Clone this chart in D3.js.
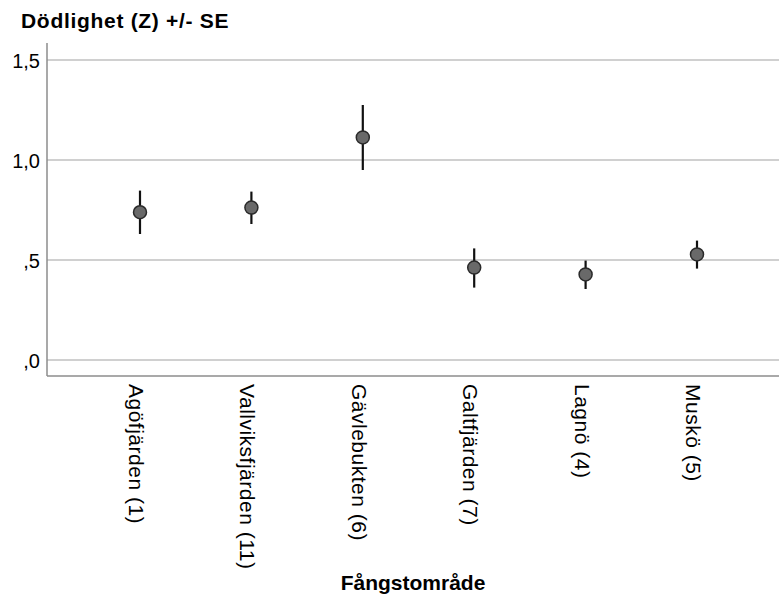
<!DOCTYPE html>
<html>
<head>
<meta charset="utf-8">
<script src="https://cdn.jsdelivr.net/npm/d3@7"></script>
<style>
  body { margin: 0; background: #fff; }
  text { font-family: Arial, "Liberation Sans", sans-serif; }
</style>
</head>
<body>
<div id="chart"></div>
<script>
// fishing areas and mortality (Z) with +/- SE
var areas = ["Agöfjärden (1)", "Vallviksfjärden (11)", "Gävlebukten (6)", "Galtfjärden (7)", "Lagnö (4)", "Muskö (5)"];
var meanZ = [0.739, 0.762, 1.113, 0.462, 0.428, 0.528];
var upperZ = [0.847, 0.842, 1.275, 0.558, 0.497, 0.597];
var lowerZ = [0.630, 0.680, 0.950, 0.362, 0.355, 0.457];
var yTicks = [0, 0.5, 1.0, 1.5];

var width = 779, height = 616;
var plotLeft = 47, plotRight = 779, plotTop = 43, plotBottom = 376;

var svg = d3.select("#chart").append("svg")
  .attr("width", width)
  .attr("height", height);

var y = d3.scaleLinear().domain([-0.08, 1.585]).range([plotBottom, plotTop]);
var x = d3.scalePoint().domain(areas).range([140, 697]);

// tick label like SPSS: 1,5 / 1,0 / ,5 / ,0
function fmt(v){
  var s = d3.format(".1f")(v).replace(".", ",");
  if (s.indexOf("0,") == 0) s = s.substring(1);
  return s;
}

// gridlines
svg.append("g").selectAll("line")
  .data(yTicks)
  .enter().append("line")
  .attr("x1", plotLeft).attr("x2", plotRight)
  .attr("y1", function(d){ return y(d); })
  .attr("y2", function(d){ return y(d); })
  .style("stroke", "#d0d0d0")
  .style("stroke-width", 2);

// y axis
var yAxis = svg.append("g")
  .attr("transform", "translate(" + plotLeft + ",0)")
  .call(d3.axisLeft(y).tickValues(yTicks).tickFormat(fmt).tickSize(0).tickPadding(7));
yAxis.select(".domain").remove();
yAxis.selectAll("text").style("font-size", "20px").style("fill", "#000").attr("dy", "0.36em");

// axis lines
svg.append("line")
  .attr("x1", plotLeft).attr("x2", plotLeft).attr("y1", plotTop).attr("y2", plotBottom)
  .style("stroke", "#8c8c8c").style("stroke-width", 1.5);
svg.append("line")
  .attr("x1", plotLeft).attr("x2", plotRight).attr("y1", plotBottom).attr("y2", plotBottom)
  .style("stroke", "#8c8c8c").style("stroke-width", 1.5);

// error bars
svg.append("g").selectAll("line")
  .data(areas)
  .enter().append("line")
  .attr("x1", function(d){ return x(d); })
  .attr("x2", function(d){ return x(d); })
  .attr("y1", function(d, i){ return y(upperZ[i]); })
  .attr("y2", function(d, i){ return y(lowerZ[i]); })
  .style("stroke", "#111")
  .style("stroke-width", 2.2);

// mean points
svg.append("g").selectAll("circle")
  .data(areas)
  .enter().append("circle")
  .attr("cx", function(d){ return x(d); })
  .attr("cy", function(d, i){ return y(meanZ[i]); })
  .attr("r", 6.5)
  .style("fill", "#696969")
  .style("stroke", "#2a2a2a")
  .style("stroke-width", 1.5);

// category labels, rotated
svg.append("g").selectAll("text")
  .data(areas)
  .enter().append("text")
  .attr("transform", function(d){ return "translate(" + (x(d) - 11) + "," + (plotBottom + 8) + ") rotate(90)"; })
  .style("font-size", "21px")
  .style("letter-spacing", "0.5px")
  .style("fill", "#000")
  .text(function(d){ return d; });

// titles
svg.append("text")
  .attr("x", 21).attr("y", 28)
  .style("font-size", "21px")
  .style("font-weight", "bold")
  .style("letter-spacing", "0.7px")
  .text("Dödlighet (Z) +/- SE");

svg.append("text")
  .attr("x", (plotLeft + plotRight) / 2).attr("y", 590)
  .attr("text-anchor", "middle")
  .style("font-size", "21px")
  .style("font-weight", "bold")
  .text("Fångstområde");
</script>
</body>
</html>
